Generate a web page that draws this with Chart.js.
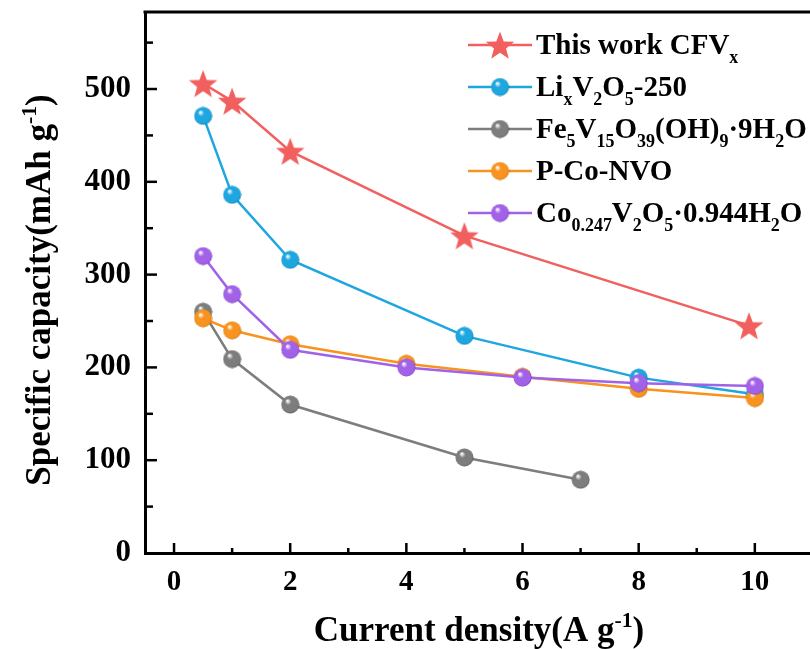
<!DOCTYPE html>
<html>
<head>
<meta charset="utf-8">
<script src="https://cdn.jsdelivr.net/npm/chart.js@4.4.1/dist/chart.umd.min.js"></script>
<style>
  body { margin: 0; background: #fff; }
  #wrap { width: 810px; height: 649px; }
</style>
</head>
<body>
<div id="wrap"><canvas id="c" width="810" height="649"></canvas></div>
<script>
// data (current density in A g-1, capacity in mAh g-1)
const seriesNames = [
  'This work CFV_{x}',
  'Li_{x}V_{2}O_{5}-250',
  'Fe_{5}V_{15}O_{39}(OH)_{9}·9H_{2}O',
  'P-Co-NVO',
  'Co_{0.247}V_{2}O_{5}·0.944H_{2}O'
];
const cfvX = [0.5, 1, 2, 5, 9.9];
const cfvY = [506, 487, 433, 342, 245];
const lvoX = [0.5, 1, 2, 5, 8, 10];
const lvoY = [471, 386, 316, 234, 189, 171];
const fvoX = [0.5, 1, 2, 5, 7];
const fvoY = [260, 209, 160, 103, 79];
const pcoX = [0.5, 1, 2, 4, 6, 8, 10];
const pcoY = [253, 240, 225, 204, 190, 177, 167];
const cvoX = [0.5, 1, 2, 4, 6, 8, 10];
const cvoY = [320, 279, 219, 200, 189, 183, 180];
const xTicks = [0, 2, 4, 6, 8, 10];
const yTicks = [0, 100, 200, 300, 400, 500];

const colors = ['#f25f5f', '#1ea6df', '#7d7d7d', '#f7931e', '#a262e8'];
const darks  = ['#c33', '#0a6e9c', '#444', '#b45f00', '#6a2cb0'];
const FONT = '"Liberation Serif", "Times New Roman", serif';

const pts = (xs, ys) => xs.map((x, i) => ({ x, y: ys[i] }));

function sphere(color, dark, d) {
  const c = document.createElement('canvas');
  c.width = c.height = d;
  const g = c.getContext('2d');
  const r = d / 2;
  const grad = g.createRadialGradient(r * 0.7, r * 0.6, r * 0.05, r, r, r);
  grad.addColorStop(0, '#ffffff');
  grad.addColorStop(0.3, color);
  grad.addColorStop(0.85, color);
  grad.addColorStop(1, dark);
  g.fillStyle = grad;
  g.beginPath();
  g.arc(r, r, r - 0.5, 0, Math.PI * 2);
  g.fill();
  return c;
}

function star(color, d) {
  const c = document.createElement('canvas');
  c.width = c.height = d;
  const g = c.getContext('2d');
  const R = d / 2, r = R * 0.42;
  g.fillStyle = color;
  g.beginPath();
  for (let i = 0; i < 10; i++) {
    const a = -Math.PI / 2 + i * Math.PI / 5;
    const rr = i % 2 ? r : R;
    g.lineTo(R + rr * Math.cos(a), R + 1.5 + rr * Math.sin(a));
  }
  g.closePath();
  g.fill();
  return c;
}

const markers = [
  star(colors[0], 30),
  sphere(colors[1], darks[1], 19),
  sphere(colors[2], darks[2], 19),
  sphere(colors[3], darks[3], 19),
  sphere(colors[4], darks[4], 19)
];

// text with _{sub} and ^{sup}
function richParts(str) {
  const out = [];
  const re = /([_^])\{([^}]*)\}|([^_^]+)/g;
  let m;
  while ((m = re.exec(str))) {
    if (m[3]) out.push({ t: m[3], k: 0 });
    else out.push({ t: m[2], k: m[1] === '_' ? 1 : -1 });
  }
  return out;
}
function richWidth(ctx, str, size) {
  let w = 0;
  for (const p of richParts(str)) {
    ctx.font = 'bold ' + (p.k ? size * 0.62 : size) + 'px ' + FONT;
    w += ctx.measureText(p.t).width;
  }
  return w;
}
function drawRich(ctx, str, x, y, size) {
  for (const p of richParts(str)) {
    const s = p.k ? size * 0.62 : size;
    ctx.font = 'bold ' + s + 'px ' + FONT;
    const dy = p.k === 1 ? size * 0.3 : p.k === -1 ? -size * 0.4 : 0;
    ctx.fillText(p.t, x, y + dy);
    x += ctx.measureText(p.t).width;
  }
}

const decor = {
  id: 'decor',
  afterDraw(chart) {
    const ctx = chart.ctx;
    const { left, right, top, bottom } = chart.chartArea;
    const xs = chart.scales.x, ys = chart.scales.y;
    ctx.save();
    ctx.strokeStyle = '#000';
    ctx.lineWidth = 3;
    ctx.beginPath();
    ctx.moveTo(left - 1.5, top);
    ctx.lineTo(right, top);
    ctx.stroke();
    // inward ticks
    ctx.lineWidth = 2.5;
    for (let v = 50; v <= 550; v += 50) {
      const py = ys.getPixelForValue(v);
      const len = v % 100 === 0 ? 12 : 8;
      ctx.beginPath(); ctx.moveTo(left, py); ctx.lineTo(left + len, py); ctx.stroke();
    }
    for (let v = 0; v <= 10; v++) {
      const px = xs.getPixelForValue(v);
      const len = v % 2 === 0 ? 10 : 5;
      ctx.beginPath(); ctx.moveTo(px, bottom); ctx.lineTo(px, bottom - len); ctx.stroke();
    }
    // axis titles
    ctx.fillStyle = '#000';
    ctx.textBaseline = 'alphabetic';
    const xt = 'Current density(A g^{-1})';
    const xw = richWidth(ctx, xt, 35);
    drawRich(ctx, xt, 479 - xw / 2, 641, 35);
    const yt = 'Specific capacity(mAh g^{-1})';
    const yw = richWidth(ctx, yt, 35);
    ctx.translate(50, 290);
    ctx.rotate(-Math.PI / 2);
    drawRich(ctx, yt, -yw / 2, 0, 35);
    ctx.restore();

    // legend
    ctx.save();
    ctx.textBaseline = 'alphabetic';
    ctx.fillStyle = '#000';
    seriesNames.forEach((name, i) => {
      const cy = 45 + i * 42;
      ctx.strokeStyle = colors[i];
      ctx.lineWidth = 2.5;
      ctx.beginPath(); ctx.moveTo(468, cy); ctx.lineTo(532, cy); ctx.stroke();
      const m = markers[i];
      ctx.drawImage(m, 500 - m.width / 2, cy - m.height / 2);
      drawRich(ctx, name, 536, cy + 9, 29);
    });
    ctx.restore();
  }
};

const allX = [cfvX, lvoX, fvoX, pcoX, cvoX];
const allY = [cfvY, lvoY, fvoY, pcoY, cvoY];

new Chart(document.getElementById('c'), {
  type: 'line',
  data: {
    datasets: allX.map((xs, i) => ({
      label: seriesNames[i],
      data: pts(xs, allY[i]),
      borderColor: colors[i],
      borderWidth: 2.5,
      pointStyle: markers[i],
      pointRadius: i === 0 ? 15 : 9,
      order: 4 - i,
      tension: 0
    }))
  },
  options: {
    responsive: false,
    animation: false,
    layout: { autoPadding: false, padding: { left: 0, top: 12, right: 0, bottom: 0 } },
    plugins: { legend: { display: false }, tooltip: { enabled: false } },
    scales: {
      x: {
        type: 'linear',
        min: -0.5,
        max: 10.95,
        afterFit: s => { s.height = 96; s.paddingLeft = 0; s.paddingRight = 0; },
        afterBuildTicks: s => { s.ticks = xTicks.map(v => ({ value: v })); },
        grid: { display: false, drawTicks: false },
        border: { display: true, color: '#000', width: 3 },
        ticks: { color: '#000', padding: 12, maxRotation: 0, font: { family: FONT, size: 29, weight: 'bold' } }
      },
      y: {
        type: 'linear',
        min: 0,
        max: 583,
        afterFit: s => { s.width = 145; s.paddingTop = 0; s.paddingBottom = 0; },
        afterBuildTicks: s => { s.ticks = yTicks.map(v => ({ value: v })); },
        grid: { display: false, drawTicks: false },
        border: { display: true, color: '#000', width: 3 },
        ticks: { color: '#000', padding: 14, font: { family: FONT, size: 31, weight: 'bold' } }
      }
    }
  },
  plugins: [decor]
});
</script>
</body>
</html>
